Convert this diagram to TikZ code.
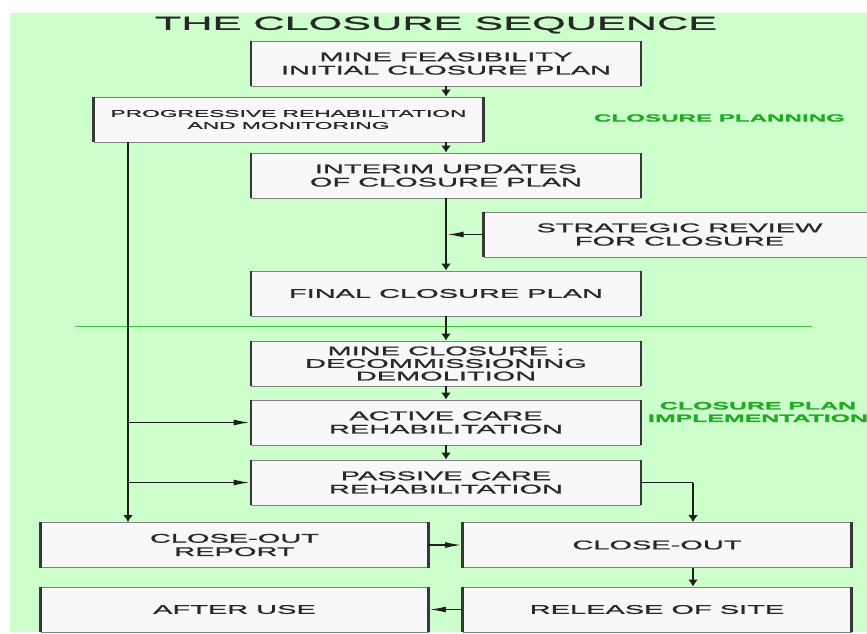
\documentclass[tikz,border=0pt]{standalone}
\usepackage{fontspec}
\setmainfont{Liberation Sans}[FakeStretch=2.3,FakeBold=1.2]
\usetikzlibrary{arrows.meta}
\definecolor{bg}{RGB}{204,255,204}
\definecolor{boxfill}{RGB}{248,248,248}
\definecolor{boxedge}{RGB}{55,55,55}
\definecolor{boxtop}{RGB}{130,130,130}
\definecolor{txt}{RGB}{40,40,40}
\definecolor{lc}{RGB}{30,30,30}
\definecolor{grntxt}{RGB}{34,170,34}
\definecolor{grnline}{RGB}{60,200,60}
\tikzset{
  box/.style={draw=boxtop, line width=0.9pt, fill=boxfill, minimum width=389pt,
    minimum height=45pt, inner sep=0pt, align=center, text=txt,
    font=\fontsize{12.6}{13.3}\selectfont},
  side/.style={draw=boxedge, line width=2.8pt},
  vline/.style={draw=lc, line width=2pt},
  hline/.style={draw=lc, line width=1.3pt},
  vtip/.style={-{Latex[length=7pt,width=10pt]}},
  htip/.style={-{Latex[length=16pt,width=6pt]}, shorten >=1.5pt},
  grn/.style={text=grntxt, align=center, font=\bfseries\fontsize{10.5}{12.5}\selectfont}
}
\begin{document}
\begin{tikzpicture}[x=1pt,y=-1pt]
\useasboundingbox (0,0) rectangle (867,633);
\clip (0,0) rectangle (867,633);
\fill[bg] (10,13) rectangle (867,632);

\node[text=txt, font=\fontsize{18.8}{20}\selectfont] (title) at (436,25) {THE CLOSURE SEQUENCE};

\draw[grnline, line width=0.8pt] (75,326) -- (812,326);

\node[box] (b1) at (446,63.5) {MINE FEASIBILITY\\INITIAL CLOSURE PLAN};
\node[box, font=\fontsize{9.9}{12}\selectfont] (b2) at (288.5,119.5) {PROGRESSIVE REHABILITATION\\AND MONITORING};
\node[box] (b3) at (446,175.5) {INTERIM UPDATES\\OF CLOSURE PLAN};
\node[box, minimum width=391pt] (b4) at (679.5,234.5) {STRATEGIC REVIEW\\FOR CLOSURE};
\node[box] (b5) at (446,293.5) {FINAL CLOSURE PLAN};
\node[box, font=\fontsize{12.6}{12.6}\selectfont] (b6) at (446,363.5) {MINE CLOSURE :\\DECOMMISSIONING\\DEMOLITION};
\node[box] (b7) at (446,422.5) {ACTIVE CARE\\REHABILITATION};
\node[box] (b8) at (446,482.5) {PASSIVE CARE\\REHABILITATION};
\node[box, minimum width=387pt] (b9) at (234.5,545) {CLOSE-OUT\\REPORT};
\node[box, minimum width=388pt] (b10) at (657,545) {CLOSE-OUT};
\node[box, minimum width=387pt] (b11) at (234.5,609.5) {AFTER USE};
\node[box, minimum width=388pt] (b12) at (657,609.5) {RELEASE OF SITE};

\foreach \n in {b1,b2,b3,b4,b5,b6,b7,b8,b9,b10,b11,b12}{
  \draw[side] (\n.north west) -- (\n.south west);
  \draw[side] (\n.north east) -- (\n.south east);
}

\node[grn] (cp) at (719.5,118) {CLOSURE PLANNING};
\node[grn, font=\bfseries\fontsize{10.8}{12.5}\selectfont] (cpi) at (758,412) {CLOSURE PLAN\\IMPLEMENTATION};

\coordinate (lx) at (128,0);
\coordinate (rx) at (693,0);

\draw[vline,vtip] (b1.south) -- (b1.south |- b2.north);
\draw[vline,vtip] (b1.south |- b2.south) -- (b3.north);
\draw[vline,vtip] (b3.south) -- (b5.north);
\coordinate (j1) at (b3.south |- b4.west);
\draw[hline,htip] (b4.west) -- (j1);
\draw[vline,vtip] (b5.south) -- (b6.north);
\draw[vline,vtip] (b6.south) -- (b7.north);
\draw[vline,vtip] (b7.south) -- (b8.north);

\draw[vline,vtip] (b2.south -| lx) -- (b9.north -| lx);
\draw[hline,htip] (b7.west -| lx) -- (b7.west);
\draw[hline,htip] (b8.west -| lx) -- (b8.west);

\coordinate (rc) at (b8.east -| rx);
\draw[hline] (b8.east) -- (rc);
\draw[vline,vtip] (rc) -- (b10.north -| rx);
\draw[hline,htip] (b9.east) -- (b10.west);
\draw[vline,vtip] (b10.south -| rx) -- (b12.north -| rx);
\draw[hline,htip] (b12.west) -- (b11.east);
\end{tikzpicture}
\end{document}
